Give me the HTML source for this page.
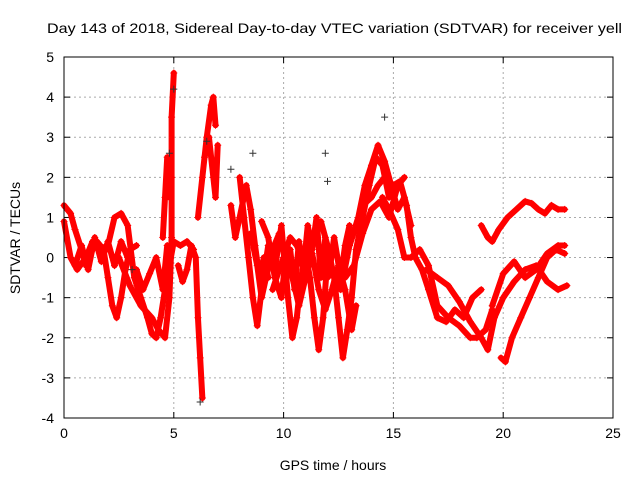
<!DOCTYPE html>
<html><head><meta charset="utf-8"><style>
body{margin:0;background:#fff}
svg{display:block;font-family:"Liberation Sans",sans-serif}
</style></head><body>
<svg id="c" width="640" height="480">
<text x="47" y="33" font-size="14" textLength="575" lengthAdjust="spacingAndGlyphs">Day 143 of 2018, Sidereal Day-to-day VTEC variation (SDTVAR) for receiver yell</text>
<text x="333" y="470" font-size="14" text-anchor="middle">GPS time / hours</text>
<text transform="translate(20,238) rotate(-90)" font-size="14" text-anchor="middle">SDTVAR / TECUs</text>
<g id="grid"></g><g id="marks"></g>
<rect x="64" y="57" width="549" height="361" fill="none" stroke="#000"/>
</svg>
<script>
const xTicks=[0,5,10,15,20,25];
const yTicks=[-4,-3,-2,-1,0,1,2,3,4,5];
const tracks=[
[[0,1.3],[0.3,1.1],[0.5,0.7],[0.8,0.2],[1.0,-0.2],[1.2,0.1],[1.5,0.4],[1.8,0.2],[2.0,-0.5],[2.2,-1.2],[2.4,-1.5],[2.6,-1.0],[2.8,-0.3],[3.0,0.2],[3.3,0.3]],
[[0,0.9],[0.3,0.0],[0.6,-0.3],[1,0],[1.3,0.4],[1.6,0.2],[2,0.3],[2.3,1.0],[2.6,1.1],[2.9,0.8],[3.2,-0.5],[3.5,-1.0],[3.8,-1.5],[4.0,-1.9],[4.2,-2.0],[4.4,-1.5],[4.6,-0.8],[4.8,-0.2],[5.0,0.4],[5.3,0.3],[5.6,0.4],[5.9,0.2]],
[[0.5,-0.2],[0.8,0.3],[1.1,-0.3],[1.4,0.5],[1.7,-0.1],[2.0,0.4],[2.3,-0.2],[2.6,0.4],[2.9,0.0]],
[[2.5,0],[3,-0.7],[3.5,-1.2],[4,-1.5],[4.3,-1.8],[4.6,-2.0],[4.8,-1.0],[4.9,0.5],[4.9,2.0],[4.9,3.5],[5.0,4.6]],
[[3.3,-0.3],[3.6,-0.8],[3.9,-0.4],[4.2,0.0],[4.5,-0.8],[4.7,0.3]],
[[4.5,0.5],[4.6,1.5],[4.7,2.5],[4.8,1.5]],
[[5.2,-0.2],[5.4,-0.6],[5.6,-0.3],[5.8,0.3],[6.0,0.0],[6.1,-1.5],[6.2,-2.5],[6.3,-3.5]],
[[6.1,1.0],[6.3,2.0],[6.5,3.0],[6.7,3.8],[6.8,4.0],[6.9,3.3]],
[[6.4,2.5],[6.6,3.0],[6.8,2.0],[6.9,1.5],[7.0,2.8]],
[[7.6,1.3],[7.8,0.5],[8.0,1.0],[8.3,1.8],[8.5,1.2],[8.7,0.3],[8.9,-0.5],[9.1,0],[9.3,-0.5]],
[[8.0,2.0],[8.2,1.0],[8.4,0.0],[8.6,-1.0],[8.8,-1.7],[9.0,-0.8],[9.3,0.3],[9.6,-0.3],[9.9,0.8],[10.1,-0.5],[10.3,0.2],[10.5,-0.8],[10.7,0.4],[10.9,-0.3],[11.1,0.8],[11.3,0.2],[11.5,1.0],[11.7,-0.5],[11.9,0.5],[12.1,-0.3],[12.3,0.5],[12.6,-0.5],[12.8,0.3],[13,0.8]],
[[9.0,0.9],[9.3,0.5],[9.6,-0.5],[9.9,-1.0],[10.1,0],[10.4,-0.5],[10.7,-1.2],[11,-0.5],[11.3,0.1],[11.6,-0.8],[11.9,-1.3],[12.2,-0.8],[12.5,-0.2],[12.8,-0.8],[13.1,-1.8],[13.3,-1.2]],
[[8.5,0.6],[8.8,-0.2],[9.0,-1.0],[9.2,-0.5],[9.5,0.2],[9.8,0.6],[10,0.3],[10.2,-1.0],[10.4,-2.0],[10.6,-1.5],[10.8,-0.5],[11,0.1],[11.2,-0.5],[11.4,-1.5],[11.6,-2.3],[11.8,-1.5],[12,0]],
[[9.5,-0.8],[9.8,-0.3],[10,0],[10.3,0.5],[10.6,0.3],[11,-0.2],[11.4,0.6],[11.7,0.9],[12,0.3],[12.3,-0.5],[12.5,-1.5],[12.7,-2.5],[12.9,-1.8],[13.1,-1.0],[13.3,0.2],[13.6,1.0],[13.9,1.8],[14.2,2.5],[14.5,2.3],[14.8,1.5]],
[[13,0.3],[13.4,1.0],[13.7,1.8],[14,2.3],[14.3,2.8],[14.6,2.4],[14.9,1.8],[15.2,1.2],[15.5,1.5],[15.8,0.8]],
[[12.8,-0.5],[13.2,-0.2],[13.6,0.6],[14,1.2],[14.4,1.4],[14.8,1.0],[15.2,1.8],[15.5,2.0]],
[[12,-0.5],[12.3,-0.3],[12.6,-0.8],[13,0.3],[13.3,0.8],[13.6,1.3],[14,1.5],[14.3,1.8],[14.6,2.0],[15,1.8],[15.3,1.9],[15.6,1.3],[15.8,0.5],[16,0],[16.3,-0.3],[16.6,-0.8],[17,-1.5],[17.4,-1.6],[17.8,-1.3],[18.2,-1.5],[18.6,-1.0],[19,-0.8]],
[[14.5,1.5],[14.8,1.2],[15.2,0.7],[15.5,0],[15.8,0.0],[16.2,0.2],[16.6,-0.2],[17,-1.2],[17.5,-1.5],[18,-1.7],[18.5,-2.0],[18.8,-2.0],[19.2,-1.8],[19.5,-1.3]],
[[16.5,-0.3],[17,-0.5],[17.5,-0.7],[18,-1.1],[18.5,-1.6],[19,-2.0],[19.3,-2.3],[19.6,-1.5],[20,-1.0],[20.5,-0.6],[21,-0.3],[21.5,-0.2],[22,-0.6],[22.5,-0.8],[22.9,-0.7]],
[[19.5,-1.2],[20,-0.4],[20.5,-0.1],[21,-0.5],[21.5,-0.3],[22,0.1],[22.5,0.3],[22.8,0.3]],
[[19.9,-2.5],[20.1,-2.6],[20.4,-2.0],[20.8,-1.5],[21.2,-1.0],[21.6,-0.5],[22,0],[22.4,0.2],[22.8,0.1]],
[[19,0.8],[19.3,0.5],[19.5,0.4],[19.8,0.7],[20.2,1.0],[20.6,1.2],[21,1.4],[21.3,1.35],[21.6,1.2],[21.9,1.1],[22.2,1.3],[22.5,1.2],[22.8,1.2]]
];
const blackPts=[[4.8,2.6],[6.2,-3.6],[7.6,2.2],[8.6,2.6],[11.9,2.6],[12.0,1.9],[14.6,3.5],[6.5,2.9],[5.0,4.2],[3.1,-0.3]];
const X0=64,X1=613,Y0=418,Y1=57;
const sx=v=>X0+(v-0)/(25-0)*(X1-X0);
const sy=v=>Y0-(v+4)/9*(Y0-Y1);
const NS="http://www.w3.org/2000/svg";
const grid=document.getElementById('grid'),marks=document.getElementById('marks');
function mk(tag,attrs,parent){const e=document.createElementNS(NS,tag);for(const k in attrs)e.setAttribute(k,attrs[k]);parent.appendChild(e);return e;}
xTicks.forEach(t=>{const x=sx(t);
 if(t>0&&t<25){const g=mk('line',{x1:x,x2:x,y1:Y1,y2:Y0,stroke:'#aaa','stroke-dasharray':'2,3'},grid);
 
 }
 mk('line',{x1:x,x2:x,y1:Y0,y2:Y0-6,stroke:'#000'},grid);mk('line',{x1:x,x2:x,y1:Y1,y2:Y1+6,stroke:'#000'},grid);
 const l=mk('text',{x:x,y:Y0+20,'font-size':14,'text-anchor':'middle'},grid);l.textContent=t;
 
 });
yTicks.forEach(t=>{const y=sy(t);
 if(t>-4&&t<5){const g=mk('line',{x1:X0,x2:X1,y1:y,y2:y,stroke:'#aaa','stroke-dasharray':'2,3'},grid);
 
 }
 mk('line',{x1:X0,x2:X0+6,y1:y,y2:y,stroke:'#000'},grid);mk('line',{x1:X1,x2:X1-6,y1:y,y2:y,stroke:'#000'},grid);
 const l=mk('text',{x:X0-10,y:y+5,'font-size':14,'text-anchor':'end'},grid);l.textContent=t;
 
 });
function plus(x,y,col,name){const p=mk('path',{d:`M${x-3.5},${y}h7M${x},${y-3.5}v7`,stroke:col,'stroke-width':1},marks);
 
 }
tracks.forEach((tr,i)=>{
 const pl=mk('polyline',{points:tr.map(p=>sx(p[0])+','+sy(p[1])).join(' '),fill:'none',stroke:'#f00','stroke-width':6,'stroke-linejoin':'round','stroke-linecap':'round'},marks);
 
 
 tr.forEach(p=>plus(sx(p[0]),sy(p[1]),'#f00','sdtvar-point'));});
blackPts.forEach(p=>plus(sx(p[0]),sy(p[1]),'#333','sdtvar-point-black'));
</script>
</body></html>
